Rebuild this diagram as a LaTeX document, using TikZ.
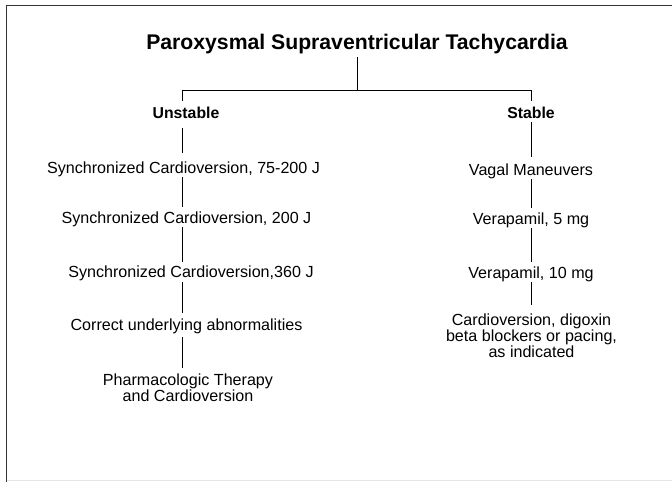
\documentclass[tikz,border=0pt]{standalone}
\usepackage{fontspec}
\setmainfont{Liberation Sans}
\begin{document}
\begin{tikzpicture}[x=1pt,y=-1pt,
  txt/.style={font=\fontsize{16.1}{14.5}\selectfont, inner sep=0pt, text height=11.6pt, text depth=3.4pt},
  head/.style={txt, font=\bfseries\fontsize{15.8}{14.5}\selectfont},
  multi/.style={inner sep=0pt, align=center, anchor=north},
  conn/.style={line width=0.9pt, shorten <=1pt, shorten >=5pt},
  bar/.style={line width=0.9pt},
  frame/.style={line width=1.4pt, black!80}]
\useasboundingbox[fill=white] (0,0) rectangle (672,482);
% frame
\draw[frame] (672,5.7) -- (6.7,5.7) -- (6.7,482);
\draw[black!10, line width=1pt] (6.7,480) -- (672,480);
% title
\node[font=\bfseries\fontsize{21.2}{24}\selectfont, inner sep=0pt, text height=15pt, text depth=4.4pt] (title) at (357,43.7) {Paroxysmal Supraventricular Tachycardia};
\coordinate (jn) at (357,90);
\coordinate (jl) at (182,90);
\coordinate (jr) at (531,90);
\node[head] (unst) at (186,114.5) {Unstable};
\node[head] (stab) at (531,114.5) {Stable};
% left column
\node[txt] (u1) at (183.5,169.5) {Synchronized Cardioversion, 75-200 J};
\node[txt] (u2) at (186.5,219.5) {Synchronized Cardioversion, 200 J};
\node[txt] (u3) at (191,273) {Synchronized Cardioversion,360 J};
\node[txt] (u4) at (186.5,326.5) {Correct underlying abnormalities};
\node[multi, font=\fontsize{16.1}{14}\selectfont] (u5) at (188,373.5) {Pharmacologic Therapy\\and Cardioversion};
% right column
\node[txt] (s1) at (531,171.5) {Vagal Maneuvers};
\node[txt] (s2) at (531,220.5) {Verapamil, 5 mg};
\node[txt] (s3) at (531,274) {Verapamil, 10 mg};
\node[multi, font=\fontsize{16.1}{15}\selectfont] (s4) at (531.5,314) {Cardioversion, digoxin\\beta blockers or pacing,\\as indicated};
% connectors
\draw[conn, shorten <=3.6pt, shorten >=0pt] (title.south) -- (jn);
\draw[bar] (jl) -- (jr);
\draw[bar, shorten >=6pt] (jl) -- (unst.north -| jl);
\draw[bar, shorten >=6pt] (jr) -- (stab.north -| jr);
\draw[conn, shorten <=6.2pt, shorten >=9pt] (unst.south -| jl) -- (u1.north -| jl);
\draw[conn, shorten <=0pt] (u1.south -| jl) -- (u2.north -| jl);
\draw[conn, shorten <=0pt, shorten >=3.5pt] (u2.south -| jl) -- (u3.north -| jl);
\draw[conn, shorten <=1.5pt, shorten >=6pt] (u3.south -| jl) -- (u4.north -| jl);
\draw[conn, shorten <=3pt, shorten >=5.5pt] (u4.south -| jl) -- (u5.north -| jl);
\draw[conn, shorten <=0pt, shorten >=7pt] (stab.south -| jr) -- (s1.north -| jr);
\draw[conn, shorten <=0pt] (s1.south -| jr) -- (s2.north -| jr);
\draw[conn, shorten <=0pt, shorten >=4.5pt] (s2.south -| jr) -- (s3.north -| jr);
\draw[conn, shorten <=0.5pt, shorten >=9pt] (s3.south -| jr) -- (s4.north -| jr);
\end{tikzpicture}
\end{document}
